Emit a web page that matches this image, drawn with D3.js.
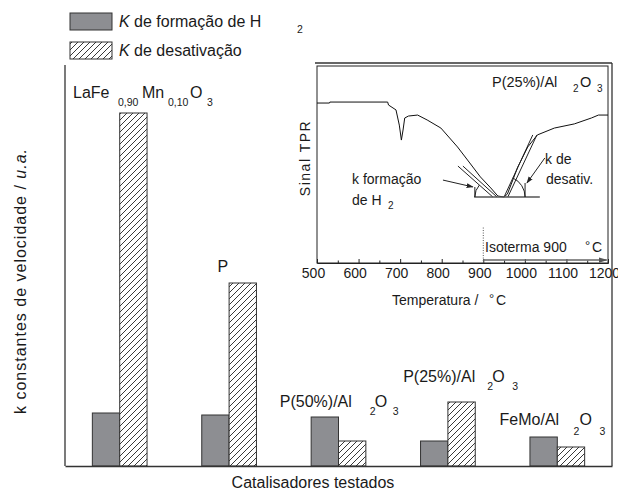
<!DOCTYPE html>
<html>
<head>
<meta charset="utf-8">
<script src="https://cdn.jsdelivr.net/npm/d3@7"></script>
<style>
  body { margin: 0; background: #fff; }
  text { font-family: "Liberation Sans", Arial, sans-serif; fill: #1a1a1a; }
</style>
</head>
<body>
<script>
// bar chart data (u.a.)
var catalysts = ['LaFe0,90Mn0,10O3', 'P', 'P(50%)/Al2O3', 'P(25%)/Al2O3', 'FeMo/Al2O3'];
var kFormacao = [5.3, 5.1, 4.9, 2.5, 2.9];
var kDesativacao = [35.3, 18.3, 2.5, 6.4, 1.9];

// label pieces: text, offset from label start, subscript or not
var catLabels = [
  [['LaFe', 0, 0], ['0,90', 45, 1], ['Mn', 69, 0], ['0,10', 95, 1], ['O', 117, 0], ['3', 134, 1]],
  [['P', 0, 0]],
  [['P(50%)/Al', 0, 0], ['2', 90, 1], ['O', 95, 0], ['3', 113, 1]],
  [['P(25%)/Al', 0, 0], ['2', 84, 1], ['O', 89, 0], ['3', 109, 1]],
  [['FeMo/Al', 0, 0], ['2', 74, 1], ['O', 80, 0], ['3', 100, 1]]
];
var labelShift = [[8, -15], [43, -11], [-4, -10], [10, -20], [-3, -12]];

// inset TPR curve: temperature (C) and signal (u.a.)
var tprTemp = [500, 530, 531, 670, 672, 690, 698, 703, 707, 711, 720, 742, 765, 798, 838, 862, 893, 918, 935, 950, 958, 983, 1007, 1030, 1071, 1119, 1160, 1177, 1200];
var tprSignal = [81.2, 81.2, 81.7, 81.7, 80.2, 77.7, 70.0, 62.4, 67.5, 73.6, 74.6, 75.1, 72.6, 68.5, 58.9, 52.3, 43.7, 38.1, 34.0, 33.5, 35.0, 48.7, 58.9, 65.0, 68.5, 70.6, 73.6, 75.1, 75.1];
var tempTicks = [500, 600, 700, 800, 900, 1000, 1100, 1200];
var tempMinor = [550, 650, 750, 850, 950, 1050, 1150];

// tangent construction (temperature, signal)
var tangentForm = [[[839, 49.2], [923, 33.5]], [[851, 49.2], [933, 33.5]]];
var tangentDesat = [[[1019, 65.0], [950, 33.5]], [[1029, 65.0], [959, 33.5]]];
var baseLine = [[878, 33.5], [1036, 33.5]];

var W = 618, H = 491;
var svg = d3.select('body').append('svg')
  .attr('width', W)
  .attr('height', H);

var defs = svg.append('defs');
var pat = defs.append('pattern')
  .attr('id', 'hatch')
  .attr('patternUnits', 'userSpaceOnUse')
  .attr('width', 6)
  .attr('height', 6);
pat.append('rect').attr('width', 6).attr('height', 6).attr('fill', '#fff');
pat.append('path')
  .attr('d', 'M-1,1 l2,-2 M0,6 l6,-6 M5,7 l2,-2')
  .attr('stroke', '#222')
  .attr('stroke-width', 0.9);

defs.append('marker')
  .attr('id', 'arr')
  .attr('viewBox', '0 0 10 10')
  .attr('refX', 9).attr('refY', 5)
  .attr('markerWidth', 7).attr('markerHeight', 7)
  .attr('orient', 'auto')
  .append('path').attr('d', 'M0,1.5 L10,5 L0,8.5 Z').attr('fill', '#222');
defs.append('marker')
  .attr('id', 'arrGray')
  .attr('viewBox', '0 0 10 10')
  .attr('refX', 9).attr('refY', 5)
  .attr('markerWidth', 6).attr('markerHeight', 6)
  .attr('orient', 'auto')
  .append('path').attr('d', 'M0,2 L10,5 L0,8 Z').attr('fill', '#555');

var GRAY = '#8d8e92';

// main chart
var x = d3.scaleBand().domain(catalysts).range([65, 612]);
var y = d3.scaleLinear().domain([0, 40]).range([466, 66]);
var bw = x.bandwidth() * 0.25;

var bars = svg.append('g');
bars.selectAll('.form').data(kFormacao)
  .enter().append('rect')
  .attr('class', 'form')
  .attr('x', function(d, i) { return x(catalysts[i]) + x.bandwidth() / 2 - bw; })
  .attr('y', function(d) { return y(d); })
  .attr('width', bw)
  .attr('height', function(d) { return y(0) - y(d); })
  .attr('fill', GRAY)
  .attr('stroke', '#333')
  .attr('stroke-width', 1);

bars.selectAll('.desat').data(kDesativacao)
  .enter().append('rect')
  .attr('class', 'desat')
  .attr('x', function(d, i) { return x(catalysts[i]) + x.bandwidth() / 2; })
  .attr('y', function(d) { return y(d); })
  .attr('width', bw)
  .attr('height', function(d) { return y(0) - y(d); })
  .attr('fill', 'url(#hatch)')
  .attr('stroke', '#333')
  .attr('stroke-width', 1);

// frame lines
svg.append('g').attr('transform', 'translate(0,466)')
  .call(d3.axisBottom(x).tickSize(0).tickFormat(''))
  .call(function(g) { g.select('.domain').attr('stroke', '#333').attr('stroke-width', 1.3); });
svg.append('line').attr('x1', 65).attr('x2', 65).attr('y1', 65).attr('y2', 466)
  .attr('stroke', '#333').attr('stroke-width', 1.3);
svg.append('line').attr('x1', 612).attr('x2', 612).attr('y1', 63).attr('y2', 466)
  .attr('stroke', '#333').attr('stroke-width', 1.3);
svg.append('line').attr('x1', 315).attr('x2', 612).attr('y1', 63).attr('y2', 63)
  .attr('stroke', '#333').attr('stroke-width', 1.3);

// category labels
catLabels.forEach(function(parts, i) {
  var top = y(Math.max(kFormacao[i], kDesativacao[i]));
  var x0 = x(catalysts[i]) + labelShift[i][0];
  var y0 = top + labelShift[i][1];
  var subDy = i === 4 ? 10 : 8;
  parts.forEach(function(p) {
    svg.append('text')
      .attr('x', x0 + p[1])
      .attr('y', p[2] ? y0 + subDy : y0)
      .style('font-size', p[2] ? '10.5px' : '16px')
      .text(p[0]);
  });
});

// axis titles
svg.append('text')
  .attr('transform', 'translate(26,281) rotate(-90)')
  .attr('text-anchor', 'middle')
  .style('font-size', '16px')
  .style('letter-spacing', '1px')
  .html('k constantes de velocidade / <tspan font-style="italic">u.a.</tspan>');
svg.append('text')
  .attr('x', 313).attr('y', 488)
  .attr('text-anchor', 'middle')
  .style('font-size', '16px')
  .text('Catalisadores testados');

// legend
svg.append('rect').attr('x', 70).attr('y', 13).attr('width', 42).attr('height', 17)
  .attr('fill', GRAY).attr('stroke', '#333');
svg.append('rect').attr('x', 70).attr('y', 42).attr('width', 42).attr('height', 17)
  .attr('fill', 'url(#hatch)').attr('stroke', '#333');
svg.append('text').attr('x', 119).attr('y', 27).style('font-size', '16px')
  .html('<tspan font-style="italic">K</tspan> de formação de H');
svg.append('text').attr('x', 297).attr('y', 33).style('font-size', '10.5px').text('2');
svg.append('text').attr('x', 119).attr('y', 56).style('font-size', '16px')
  .html('<tspan font-style="italic">K</tspan> de desativação');

// inset
var xi = d3.scaleLinear().domain([500, 1200]).range([317, 608]);
var yi = d3.scaleLinear().domain([0, 100]).range([263, 66]);
var inset = svg.append('g');

inset.append('rect')
  .attr('x', xi(500)).attr('y', yi(100))
  .attr('width', xi(1200) - xi(500)).attr('height', yi(0) - yi(100))
  .attr('fill', '#fff').attr('stroke', '#222').attr('stroke-width', 1);

inset.append('g').attr('transform', 'translate(0,' + yi(0) + ')')
  .call(d3.axisBottom(xi).tickValues(tempTicks).tickSize(-4).tickPadding(5).tickFormat(d3.format('d')))
  .call(function(g) {
    g.select('.domain').attr('stroke', '#222');
    g.selectAll('.tick line').attr('stroke', '#222');
    g.selectAll('.tick text')
      .attr('dx', -4)
      .style('font-size', '14px')
      .style('font-family', '"Liberation Sans", Arial, sans-serif')
      .attr('fill', '#1a1a1a');
  });
inset.append('g').attr('transform', 'translate(0,' + yi(0) + ')')
  .call(d3.axisBottom(xi).tickValues(tempMinor).tickSize(-2.5).tickFormat(''))
  .call(function(g) {
    g.select('.domain').remove();
    g.selectAll('.tick line').attr('stroke', '#222');
  });

var line = d3.line()
  .x(function(d, i) { return xi(tprTemp[i]); })
  .y(function(d) { return yi(d); });
inset.append('path')
  .datum(tprSignal)
  .attr('d', line)
  .attr('fill', 'none')
  .attr('stroke', '#111')
  .attr('stroke-width', 1);

var seg = d3.line()
  .x(function(d) { return xi(d[0]); })
  .y(function(d) { return yi(d[1]); });
tangentForm.concat(tangentDesat).forEach(function(t) {
  inset.append('path').attr('d', seg(t))
    .attr('fill', 'none').attr('stroke', '#222').attr('stroke-width', 1);
});
inset.append('path').attr('d', seg(baseLine))
  .attr('fill', 'none').attr('stroke', '#555').attr('stroke-width', 1.3);

// angle marks
function angleMark(t, r, side) {
  var cx = xi(t[1][0]), cy = yi(t[1][1]);
  var a = Math.atan2(yi(t[0][1]) - cy, xi(t[0][0]) - cx);
  var p = d3.path();
  if (side < 0) {
    p.moveTo(cx - r, cy);
    p.arc(cx, cy, r, Math.PI, a + 2 * Math.PI, false);
  } else {
    p.moveTo(cx + r, cy);
    p.arc(cx, cy, r, 0, a, true);
  }
  return p.toString();
}
inset.append('path').attr('d', angleMark(tangentForm[0], 18, -1))
  .attr('fill', 'none').attr('stroke', '#222');
inset.append('path').attr('d', angleMark(tangentDesat[0], 21, 1))
  .attr('fill', 'none').attr('stroke', '#222');
inset.append('line')
  .attr('x1', xi(tangentForm[0][1][0]) - 18).attr('x2', xi(tangentForm[0][1][0]) - 18)
  .attr('y1', yi(33.5)).attr('y2', yi(33.5) - 10).attr('stroke', '#222');
inset.append('line')
  .attr('x1', xi(tangentDesat[0][1][0]) + 21).attr('x2', xi(tangentDesat[0][1][0]) + 21)
  .attr('y1', yi(33.5)).attr('y2', yi(33.5) - 14).attr('stroke', '#222');

// annotation arrows
inset.append('path').attr('d', seg([[803, 42.1], [875, 38.6]]))
  .attr('stroke', '#222').attr('fill', 'none').attr('marker-end', 'url(#arr)');
inset.append('path').attr('d', seg([[1048, 53.3], [1005, 40.6]]))
  .attr('stroke', '#222').attr('fill', 'none').attr('marker-end', 'url(#arr)');

// isotherm
inset.append('line')
  .attr('x1', xi(900)).attr('x2', xi(900))
  .attr('y1', yi(18)).attr('y2', yi(0))
  .attr('stroke', '#555').attr('stroke-dasharray', '1,1.5');
inset.append('path').attr('d', seg([[900, 1.5], [1197, 1.5]]))
  .attr('stroke', '#666').attr('stroke-width', 1.5).attr('fill', 'none')
  .attr('marker-end', 'url(#arrGray)');

function itext(px, py, size, s) {
  return inset.append('text').attr('x', px).attr('y', py).style('font-size', size).text(s);
}
itext(485, 252, '14px', 'Isoterma 900');
itext(585, 250, '13px', '°');
itext(592, 252, '14px', 'C');
itext(492, 87, '14.5px', 'P(25%)/Al');
itext(573, 92, '10px', '2');
itext(580, 87, '14.5px', 'O');
itext(597, 92, '10px', '3');
itext(352, 184, '14px', 'k formação');
itext(352, 205, '14px', 'de H');
itext(388, 209, '10px', '2');
itext(545, 164, '14px', 'k de');
itext(546, 184, '14px', 'desativ.');
itext(392, 305, '14px', 'Temperatura /');
itext(489, 303, '13px', '°');
itext(496, 305, '14px', 'C');

inset.append('text')
  .attr('transform', 'translate(310,158) rotate(-90)')
  .attr('text-anchor', 'middle')
  .style('font-size', '14px')
  .style('letter-spacing', '1.5px')
  .text('Sinal TPR');
</script>
</body>
</html>
